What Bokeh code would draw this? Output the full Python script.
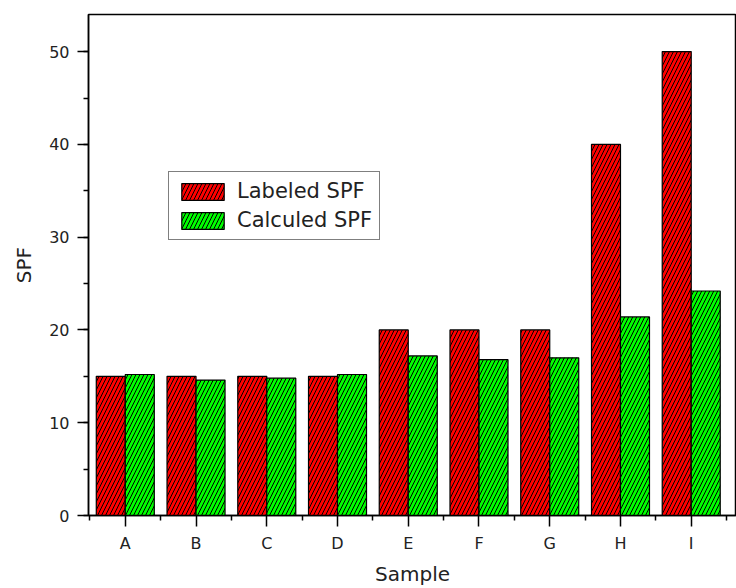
from bokeh.plotting import figure
from bokeh.models import ColumnDataSource, FixedTicker, SingleIntervalTicker, Range1d, Legend, LegendItem
from bokeh.transform import dodge
from bokeh.embed import file_html
from bokeh.resources import INLINE

categories = ["A", "B", "C", "D", "E", "F", "G", "H", "I"]
labeled_spf = [15, 15, 15, 15, 20, 20, 20, 40, 50]
calculed_spf = [15.2, 14.6, 14.8, 15.2, 17.2, 16.8, 17.0, 21.4, 24.2]

xs = list(range(1, len(categories) + 1))
src = ColumnDataSource(dict(x=xs, lab=labeled_spf, cal=calculed_spf))

FONT = "DejaVu Sans"

p = figure(frame_width=648, frame_height=501, width=736, height=588,
           x_range=Range1d(0.48, 9.64), y_range=Range1d(0, 54),
           output_backend="svg", toolbar_location=None,
           min_border_left=88, min_border_right=0, min_border_top=14, min_border_bottom=73)
p.background_fill_color = "white"
p.border_fill_color = "white"
p.outline_line_color = "black"
p.outline_line_width = 1.5
p.xgrid.visible = False
p.ygrid.visible = False

r1 = p.vbar(x=dodge("x", -0.205, range=p.x_range), top="lab", width=0.41, source=src,
            fill_color="#ff0000", line_color="black", line_width=1.2,
            hatch_pattern="/", hatch_color="black", hatch_scale=8, hatch_weight=1)
r2 = p.vbar(x=dodge("x", 0.205, range=p.x_range), top="cal", width=0.41, source=src,
            fill_color="#00ff00", line_color="black", line_width=1.2,
            hatch_pattern="/", hatch_color="black", hatch_scale=8, hatch_weight=1)

xa = p.xaxis[0]
xa.ticker = FixedTicker(ticks=xs, minor_ticks=[x - 0.5 for x in xs] + [len(xs) + 0.5])
xa.major_label_overrides = {x: c for x, c in zip(xs, categories)}
xa.axis_label = "Sample"
ya = p.yaxis[0]
ya.ticker = SingleIntervalTicker(interval=10, num_minor_ticks=2)
ya.axis_label = "SPF"

for ax in (xa, ya):
    ax.axis_line_color = "black"
    ax.axis_line_width = 1.5
    ax.major_tick_line_color = "black"
    ax.minor_tick_line_color = "black"
    ax.major_tick_line_width = 1.5
    ax.minor_tick_line_width = 1.5
    ax.major_tick_out = 11
    ax.major_tick_in = 0
    ax.minor_tick_out = 5
    ax.minor_tick_in = 0
    ax.major_label_text_font = FONT
    ax.major_label_text_font_size = "16px"
    ax.major_label_text_color = "#222222"
    ax.axis_label_text_font = FONT
    ax.axis_label_text_font_size = "20px"
    ax.axis_label_text_font_style = "normal"
    ax.axis_label_text_color = "#222222"

xa.major_label_standoff = 7
xa.axis_label_standoff = 6
ya.major_label_standoff = 8
ya.axis_label_standoff = 10

legend = Legend(items=[LegendItem(label="Labeled SPF", renderers=[r1]),
                       LegendItem(label="Calculed SPF", renderers=[r2])],
                location=(80, 275), margin=0, padding=7, spacing=5,
                glyph_width=53, glyph_height=21, label_height=24, label_standoff=8,
                label_text_font=FONT, label_text_font_size="21px", label_text_color="#222222",
                border_line_color="black", border_line_width=1.5,
                background_fill_color="white", background_fill_alpha=1)
p.add_layout(legend, "center")

open("out.html", "w").write(file_html(p, INLINE))
